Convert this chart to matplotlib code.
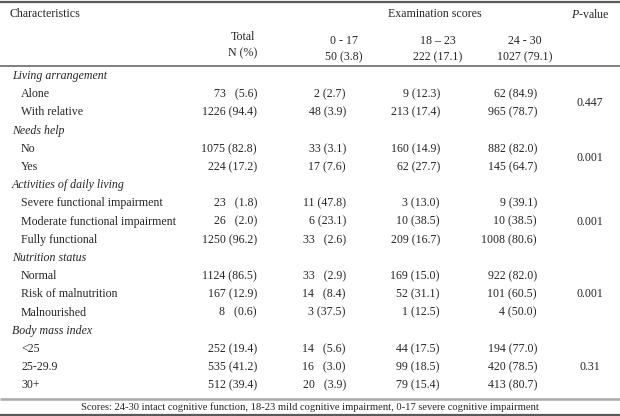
import matplotlib
matplotlib.use("Agg")
import matplotlib.pyplot as plt

plt.rcParams["font.family"] = ["Liberation Serif", "DejaVu Serif"]
plt.rcParams["mathtext.fontset"] = "custom"
plt.rcParams["mathtext.rm"] = "Liberation Serif"
plt.rcParams["mathtext.it"] = "Liberation Serif:italic"

# table content
sections = ["Living arrangement", "Needs help", "Activities of daily living",
            "Nutrition status", "Body mass index"]
items = [
    ["Alone", "With relative"],
    ["No", "Yes"],
    ["Severe functional impairment", "Moderate functional impairment", "Fully functional"],
    ["Normal", "Risk of malnutrition", "Malnourished"],
    ["<25", "25-29.9", "30+"],
]
total_n = [[73, 1226], [1075, 224], [23, 26, 1250], [1124, 167, 8], [252, 535, 512]]
total_pct = [[5.6, 94.4], [82.8, 17.2], [1.8, 2.0, 96.2], [86.5, 12.9, 0.6], [19.4, 41.2, 39.4]]
low_n = [[2, 48], [33, 17], [11, 6, 33], [33, 14, 3], [14, 16, 20]]
low_pct = [[2.7, 3.9], [3.1, 7.6], [47.8, 23.1, 2.6], [2.9, 8.4, 37.5], [5.6, 3.0, 3.9]]
mid_n = [[9, 213], [160, 62], [3, 10, 209], [169, 52, 1], [44, 99, 79]]
mid_pct = [[12.3, 17.4], [14.9, 27.7], [13.0, 38.5, 16.7], [15.0, 31.1, 12.5], [17.5, 18.5, 15.4]]
high_n = [[62, 965], [882, 145], [9, 10, 1008], [922, 101, 4], [194, 420, 413]]
high_pct = [[84.9, 78.7], [82.0, 64.7], [39.1, 38.5, 80.6], [82.0, 60.5, 50.0], [77.0, 78.5, 80.7]]
p_values = ["0.447", "0.001", "0.001", "0.001", "0.31"]

score_groups = ["0 - 17", "18 \u2013 23", "24 - 30"]
group_n = [50, 222, 1027]
group_pct = [3.8, 17.1, 79.1]
footnote = ("Scores: 24-30 intact cognitive function, 18-23 mild cognitive impairment, "
            "0-17 severe cognitive impairment")

# cells typeset with a wider gap between count and percentage: (column, section, item)
wide_gap = {(0, 0, 0), (0, 2, 0), (0, 2, 1), (0, 3, 2),
            (1, 2, 2), (1, 3, 0), (1, 3, 1), (1, 4, 0), (1, 4, 1), (1, 4, 2)}

W, H = 620, 416
fig = plt.figure(figsize=(W / 100, H / 100), dpi=100)
ax = fig.add_axes([0, 0, 1, 1])
ax.set_xlim(0, W)
ax.set_ylim(H, 0)
ax.axis("off")

fs = 8.6
txt = "#262626"
va = "center_baseline"
col_right = [257, 346, 440, 537]
p_x = 590

# header
ax.text(9, 12.5, "Characteristics", fontsize=fs, color=txt, va=va)
ax.text(435, 12.5, "Examination scores", fontsize=fs, color=txt, va=va, ha="center")
ax.text(590, 12.5, r"$\it{P}$-value", fontsize=fs, color=txt, va=va, ha="center")
ax.text(243, 35.5, "Total", fontsize=fs, color=txt, va=va, ha="center")
ax.text(243, 51.5, "N (%)", fontsize=fs, color=txt, va=va, ha="center")
for i, g in enumerate(score_groups):
    cx = [344, 438, 525][i]
    ax.text(cx, 39.5, g, fontsize=fs, color=txt, va=va, ha="center")
    ax.text(cx, 55.5, f"{group_n[i]} ({group_pct[i]:.1f})", fontsize=fs, color=txt,
            va=va, ha="center")

ax.hlines(2, 0, W, color="#5a5a5a", lw=1.6)
ax.hlines(65.5, 0, W, color="#6a6a6a", lw=1.2)

# body
cols = [(total_n, total_pct), (low_n, low_pct), (mid_n, mid_pct), (high_n, high_pct)]
row_h = 18.2
y = 74.5
for s, name in enumerate(sections):
    ax.text(12, y, name, fontsize=fs, color=txt, va=va, style="italic")
    y += row_h
    y_items = []
    for k, label in enumerate(items[s]):
        ax.text(21, y, label, fontsize=fs, color=txt, va=va)
        for c, (ns, ps) in enumerate(cols):
            gap = "   " if (c, s, k) in wide_gap else " "
            ax.text(col_right[c], y, f"{ns[s][k]}{gap}({ps[s][k]:.1f})", fontsize=fs,
                    color=txt, va=va, ha="right")
        y_items.append(y)
        y += row_h
    ax.text(p_x, (y_items[0] + y_items[-1]) / 2, p_values[s], fontsize=fs, color=txt,
            va=va, ha="center")

ax.hlines(398.5, 0, W, color="#a8a8a8", lw=1.8)
ax.text(W / 2, 406, footnote, fontsize=7.6, color=txt, va=va, ha="center")
ax.hlines(414.5, 0, W, color="#5a5a5a", lw=1.6)

fig.savefig("out.png", dpi=100)
